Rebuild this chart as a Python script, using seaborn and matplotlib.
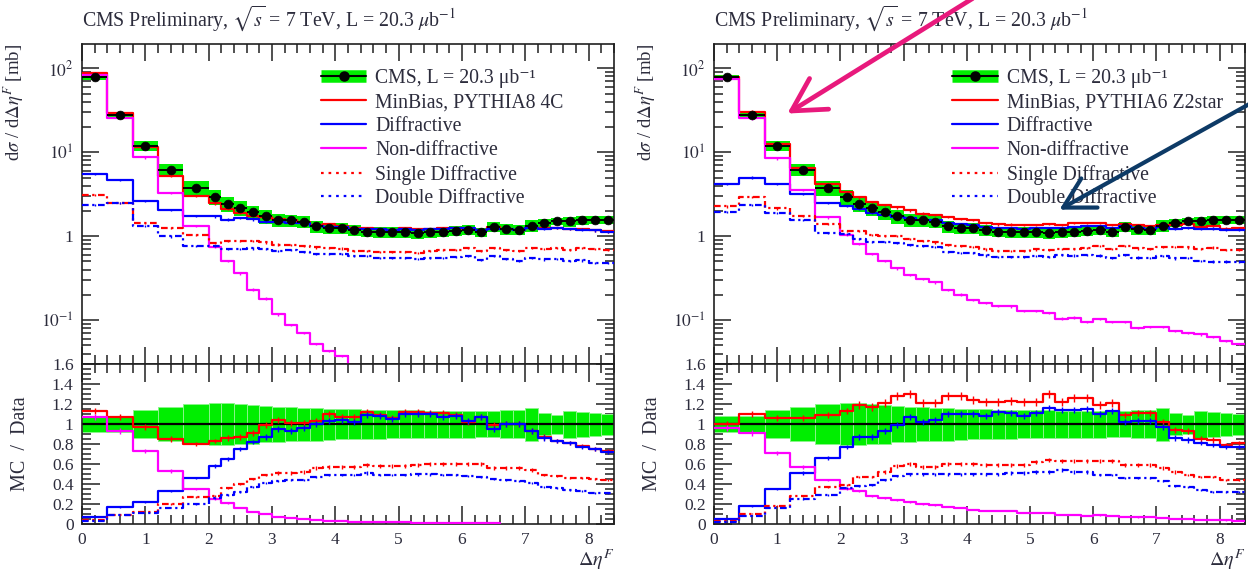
import numpy as np
import pandas as pd
import matplotlib
matplotlib.use("Agg")
import matplotlib.pyplot as plt
import seaborn as sns
from matplotlib.lines import Line2D
from matplotlib.patches import FancyArrowPatch
from matplotlib.ticker import FixedLocator, MultipleLocator, NullFormatter, FixedFormatter

# ---------------- data ----------------
bin_edges = [0.0, 0.4, 0.8, 1.2, 1.6, 2.0, 2.2, 2.4, 2.6, 2.8, 3.0, 3.2, 3.4, 3.6, 3.8,
             4.0, 4.2, 4.4, 4.6, 4.8, 5.0, 5.2, 5.4, 5.6, 5.8, 6.0, 6.2, 6.4, 6.6, 6.8,
             7.0, 7.2, 7.4, 7.6, 7.8, 8.0, 8.2, 8.4]

cms_xsec = [78.0, 27.8, 11.9, 6.2, 3.8, 2.96, 2.43, 2.18, 1.93, 1.72, 1.56, 1.54, 1.48,
            1.31, 1.26, 1.25, 1.18, 1.13, 1.12, 1.12, 1.12, 1.08, 1.11, 1.13, 1.15, 1.20,
            1.12, 1.29, 1.21, 1.19, 1.34, 1.43, 1.50, 1.50, 1.56, 1.56, 1.56]
cms_relerr = [0.08, 0.08, 0.14, 0.17, 0.20, 0.21, 0.21, 0.20, 0.195, 0.18, 0.175, 0.17,
              0.165, 0.165, 0.155, 0.15, 0.15, 0.145, 0.145, 0.14, 0.14, 0.14, 0.135,
              0.135, 0.135, 0.135, 0.13, 0.13, 0.14, 0.14, 0.165, 0.11, 0.095, 0.135,
              0.125, 0.115, 0.105]

# MC / Data ratios, PYTHIA8 4C (left panel)
p8_minbias = [1.13, 1.07, 0.97, 0.85, 0.80, 0.83, 0.86, 0.87, 0.91, 0.99, 1.04, 1.01, 1.01,
              1.03, 1.10, 1.07, 1.07, 1.12, 1.09, 1.06, 1.12, 1.12, 1.11, 1.11, 1.09, 1.02,
              1.07, 0.99, 1.00, 1.00, 0.93, 0.87, 0.83, 0.81, 0.78, 0.75, 0.73]
p8_diff = [0.07, 0.17, 0.22, 0.33, 0.46, 0.58, 0.65, 0.75, 0.82, 0.87, 0.95, 0.93, 0.96,
           1.00, 1.03, 1.04, 1.02, 1.09, 1.08, 1.05, 1.10, 1.10, 1.10, 1.07, 1.08, 1.03,
           1.07, 0.95, 1.00, 1.00, 0.93, 0.86, 0.83, 0.81, 0.77, 0.75, 0.72]
p8_nondiff = [1.07, 0.93, 0.73, 0.53, 0.35, 0.25, 0.21, 0.165, 0.12, 0.105, 0.075, 0.057,
              0.047, 0.040, 0.034, 0.030, 0.025, 0.022, 0.020, 0.018, 0.016, 0.015, 0.014,
              0.013, 0.012, 0.011, 0.010, 0.010, np.nan, np.nan, np.nan, np.nan, np.nan,
              np.nan, np.nan, np.nan, np.nan]
p8_sd = [0.04, 0.09, 0.12, 0.20, 0.27, 0.28, 0.36, 0.40, 0.45, 0.49, 0.51, 0.51, 0.52,
         0.56, 0.57, 0.57, 0.57, 0.59, 0.58, 0.58, 0.58, 0.59, 0.60, 0.60, 0.60, 0.60,
         0.60, 0.56, 0.56, 0.56, 0.54, 0.49, 0.48, 0.46, 0.46, 0.45, 0.44]
p8_dd = [0.03, 0.09, 0.11, 0.16, 0.20, 0.26, 0.29, 0.32, 0.37, 0.41, 0.43, 0.44, 0.44,
         0.47, 0.49, 0.49, 0.49, 0.51, 0.49, 0.49, 0.49, 0.50, 0.50, 0.49, 0.49, 0.48,
         0.47, 0.45, 0.44, 0.43, 0.41, 0.37, 0.36, 0.34, 0.33, 0.31, 0.31]

# MC / Data ratios, PYTHIA6 Z2star (right panel)
p6_minbias = [1.00, 1.10, 1.06, 1.06, 1.09, 1.13, 1.19, 1.17, 1.21, 1.28, 1.30, 1.21, 1.21,
              1.28, 1.28, 1.24, 1.22, 1.22, 1.23, 1.22, 1.22, 1.30, 1.22, 1.26, 1.26, 1.19,
              1.21, 1.09, 1.11, 1.11, 1.02, 0.94, 0.93, 0.85, 0.84, 0.79, 0.81]
p6_diff = [0.054, 0.18, 0.35, 0.51, 0.66, 0.77, 0.87, 0.87, 0.93, 0.99, 1.07, 1.02, 1.04,
           1.10, 1.10, 1.10, 1.08, 1.12, 1.11, 1.08, 1.11, 1.16, 1.14, 1.14, 1.15, 1.10,
           1.13, 1.02, 1.03, 1.03, 0.97, 0.86, 0.84, 0.81, 0.79, 0.77, 0.77]
p6_nondiff = [0.96, 0.91, 0.71, 0.57, 0.44, 0.35, 0.33, 0.28, 0.26, 0.24, 0.22, 0.20, 0.19,
              0.175, 0.16, 0.14, 0.135, 0.13, 0.13, 0.115, 0.115, 0.112, 0.094, 0.095,
              0.083, 0.086, 0.085, 0.074, 0.066, 0.070, 0.062, 0.052, 0.047, 0.045, 0.040,
              0.036, 0.033]
p6_sd = [0.029, 0.105, 0.18, 0.28, 0.37, 0.39, 0.47, 0.47, 0.52, 0.58, 0.60, 0.57, 0.57,
         0.60, 0.60, 0.60, 0.59, 0.59, 0.59, 0.59, 0.62, 0.64, 0.63, 0.63, 0.63, 0.63,
         0.63, 0.59, 0.59, 0.59, 0.56, 0.52, 0.49, 0.47, 0.47, 0.44, 0.44]
p6_dd = [0.025, 0.085, 0.16, 0.25, 0.29, 0.36, 0.38, 0.39, 0.44, 0.48, 0.50, 0.50, 0.50,
         0.50, 0.50, 0.50, 0.50, 0.50, 0.51, 0.51, 0.52, 0.52, 0.54, 0.52, 0.52, 0.49,
         0.49, 0.46, 0.46, 0.46, 0.43, 0.38, 0.37, 0.34, 0.32, 0.32, 0.32]

mc_stat_relerr = 0.03

title_text = r"CMS Preliminary, $\sqrt{s}$ = 7 TeV, L = 20.3 $\mu$b$^{-1}$"
legend_labels_common = ["CMS, L = 20.3 \u03bcb\u207b\u00b9", None, "Diffractive",
                        "Non-diffractive", "Single Diffractive", "Double Diffractive"]
tunes = ["MinBias, PYTHIA8 4C", "MinBias, PYTHIA6 Z2star"]
upper_ticks = [0.1, 1, 10, 100]
upper_ticklabels = [r"$10^{-1}$", "1", r"$10^{1}$", r"$10^{2}$"]
ratio_ticks = [0, 0.2, 0.4, 0.6, 0.8, 1.0, 1.2, 1.4, 1.6]
ratio_ticklabels = ["0", "0.2", "0.4", "0.6", "0.8", "1", "1.2", "1.4", "1.6"]

# ---------------- style ----------------
sns.set_theme(style="ticks")
TXT = "#2c2c3c"
plt.rcParams["font.family"] = ["Liberation Serif", "DejaVu Serif"]
plt.rcParams["mathtext.fontset"] = "stix"
plt.rcParams["text.color"] = TXT
plt.rcParams["axes.labelcolor"] = TXT
plt.rcParams["xtick.color"] = "#202020"
plt.rcParams["ytick.color"] = "#202020"
plt.rcParams["xtick.labelcolor"] = TXT
plt.rcParams["ytick.labelcolor"] = TXT

GREEN = "#00ee00"
RED = "#ff0000"
BLUE = "#0000ff"
MAG = "#ff00ff"
DOTTED = (0, (3.0, 1.6, 1.0, 1.6))

W, H = 1248, 570
fig = plt.figure(figsize=(W / 100, H / 100), dpi=100)


def frac(x0, y0, x1, y1):
    return [x0 / W, 1 - y1 / H, (x1 - x0) / W, (y1 - y0) / H]


edges = np.array(bin_edges)
lo, hi = edges[:-1], edges[1:]
widths = hi - lo
centers = 0.5 * (lo + hi)
xsec = np.array(cms_xsec)
rel = np.array(cms_relerr)


def draw_step(ax, vals, color, ls, lw=1.6, z=3):
    vals = np.asarray(vals, dtype=float)
    y = np.append(vals, np.nan)
    valid = np.where(~np.isnan(vals))[0]
    y[valid[-1] + 1] = vals[valid[-1]]
    df = pd.DataFrame({"x": edges, "y": y}).dropna()
    sns.lineplot(data=df, x="x", y="y", ax=ax, drawstyle="steps-post", color=color,
                 linestyle=ls, linewidth=lw, estimator=None, sort=False, legend=False,
                 zorder=z)
    ax.errorbar(centers, vals, yerr=np.abs(vals) * mc_stat_relerr, fmt="none",
                ecolor=color, elinewidth=1.0, capsize=0, zorder=z)


def style_axes(ax, major_len, minor_len):
    ax.tick_params(which="both", direction="in", top=True, right=True, width=1.1,
                   labelsize=12.5, pad=6)
    ax.tick_params(which="major", length=major_len)
    ax.tick_params(which="minor", length=minor_len)
    for s in ax.spines.values():
        s.set_linewidth(1.2)
        s.set_color("#202020")
    ax.set_xlim(0, 8.4)
    ax.xaxis.set_major_locator(MultipleLocator(1))
    ax.xaxis.set_minor_locator(MultipleLocator(0.2))


panels = [
    dict(x0=82, x1=614, tune=tunes[0], mb=p8_minbias, diff=p8_diff, nd=p8_nondiff,
         sd=p8_sd, dd=p8_dd),
    dict(x0=714, x1=1245, tune=tunes[1], mb=p6_minbias, diff=p6_diff, nd=p6_nondiff,
         sd=p6_sd, dd=p6_dd),
]

for p in panels:
    axu = fig.add_axes(frac(p["x0"], 44, p["x1"], 364))
    axl = fig.add_axes(frac(p["x0"], 364, p["x1"], 524))
    series = [(p["mb"], RED, "-"), (p["diff"], BLUE, "-"), (p["nd"], MAG, "-"),
              (p["sd"], RED, DOTTED), (p["dd"], BLUE, DOTTED)]

    # ---------- upper: cross section ----------
    axu.set_yscale("log")
    axu.bar(lo, 2 * rel * xsec, bottom=xsec * (1 - rel), width=widths, align="edge",
            color=GREEN, linewidth=0, zorder=1)
    for ratio, col, ls in series:
        draw_step(axu, np.array(ratio, dtype=float) * xsec, col, ls)
    axu.hlines(xsec, lo, hi, colors="black", linewidth=1.4, zorder=5)
    sns.scatterplot(x=centers, y=xsec, ax=axu, color="black", s=40, edgecolor="black",
                    linewidth=0.5, zorder=6, legend=False)
    style_axes(axu, 12, 6.5)
    axu.set_ylim(0.03, 195)
    axu.yaxis.set_major_locator(FixedLocator(upper_ticks))
    axu.yaxis.set_major_formatter(FixedFormatter(upper_ticklabels))
    axu.yaxis.set_minor_locator(FixedLocator(
        [m * 10.0 ** e for e in range(-2, 3) for m in range(2, 10)]))
    axu.yaxis.set_minor_formatter(NullFormatter())
    axu.tick_params(axis="x", labelbottom=False)
    axu.set_xlabel("")
    axu.set_ylabel(r"d$\sigma$ / d$\Delta\eta^{F}$ [mb]", fontsize=13.5, loc="top")
    axu.yaxis.set_label_coords(-0.105, 1.0)

    labels = list(legend_labels_common)
    labels[1] = p["tune"]
    handles = [
        (Line2D([], [], color=GREEN, lw=9, solid_capstyle="butt"),
         Line2D([], [], color="black", lw=1.5, marker="o", ms=6.5)),
        Line2D([], [], color=RED, lw=1.6),
        Line2D([], [], color=BLUE, lw=1.6),
        Line2D([], [], color=MAG, lw=1.6),
        Line2D([], [], color=RED, lw=1.6, linestyle=(0, (1.2, 2.2))),
        Line2D([], [], color=BLUE, lw=1.6, linestyle=(0, (1.2, 2.2))),
    ]
    leg = axu.legend(handles, labels, loc="upper left", bbox_to_anchor=(0.449, 0.921),
                     frameon=False, fontsize=14.2, handlelength=2.3, handletextpad=0.45,
                     labelspacing=0.245, borderpad=0, borderaxespad=0)
    for t in leg.get_texts():
        t.set_color(TXT)

    # ---------- lower: MC / Data ----------
    axl.bar(lo, 2 * rel, bottom=1 - rel, width=widths, align="edge", color=GREEN,
            edgecolor="#8af58a", linewidth=0.7, zorder=1)
    axl.axhline(1.0, color="black", linewidth=1.6, zorder=2)
    for ratio, col, ls in series:
        draw_step(axl, ratio, col, ls)
    style_axes(axl, 13, 6.5)
    axl.set_ylim(0, 1.6)
    axl.yaxis.set_major_locator(FixedLocator(ratio_ticks))
    axl.yaxis.set_major_formatter(FixedFormatter(ratio_ticklabels))
    axl.yaxis.set_minor_locator(MultipleLocator(0.05))
    axl.set_ylabel("MC  /  Data", fontsize=14.5)
    axl.yaxis.set_label_coords(-0.098, 0.5)
    axl.set_xlabel(r"$\Delta\eta^{F}$", fontsize=14.5, loc="right")
    axl.xaxis.set_label_coords(1.0, -0.15)
    axl.xaxis.label.set_va("top")

    fig.text(p["x0"] / W, 1 - 18 / H, title_text, fontsize=14.3, ha="left",
             va="center", color=TXT)

# ---------- annotation arrows ----------
def fig_pt(x, y):
    return (x / W, 1 - y / H)


arrow1 = FancyArrowPatch(fig_pt(975, -3), fig_pt(785, 115), transform=fig.transFigure,
                         arrowstyle="->,head_length=0.9,head_width=0.5",
                         mutation_scale=26, lw=3.4, color="#e8197c", zorder=20)
arrow2 = FancyArrowPatch(fig_pt(1253, 102), fig_pt(1057, 211), transform=fig.transFigure,
                         arrowstyle="->,head_length=0.9,head_width=0.5",
                         mutation_scale=24, lw=3.0, color="#0d3a66", zorder=20)
fig.add_artist(arrow1)
fig.add_artist(arrow2)

fig.savefig("out.png", dpi=100)
